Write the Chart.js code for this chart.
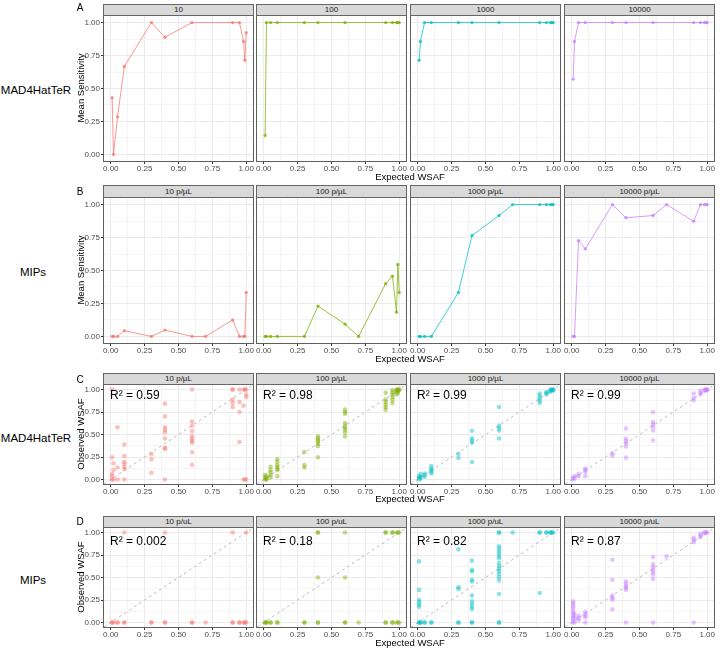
<!DOCTYPE html>
<html lang="en">
<head>
<meta charset="UTF-8">
<title>Sensitivity and WSAF by parasite density</title>
<style>
  body { margin: 0; background: #fff; font-family: "Liberation Sans", Arial, sans-serif; }
  #fig { position: relative; width: 720px; height: 651px; overflow: hidden; background: #fff; }
  #fig canvas { position: absolute; }
  .strip {
    position: absolute; box-sizing: border-box;
    background: #D9D9D9; border: 1px solid #666;
    font-size: 8px; color: #1A1A1A; text-align: center;
  }
  .lbl { position: absolute; white-space: nowrap; color: #000; }
</style>
<script src="https://cdn.jsdelivr.net/npm/chart.js"></script>
</head>
<body>
<div id="fig"></div>
<script>
// ---- data ----
const densityMad = ['10', '100', '1000', '10000'];
const densityMipB = ['10 p/µL', '100 p/µL', '1000 p/µL', '10000 p/µL'];
const densityMadC = ['10 p/µL', '100 p/µL', '1000 p/µL', '10000 p/µL'];
const densityMipD = ['10 p/uL', '100 p/uL', '1000 p/uL', '10000 p/uL'];

const wsafMad = [0.01, 0.02, 0.05, 0.1, 0.3, 0.4, 0.6, 0.9, 0.95, 0.98, 0.99, 1];
const wsafMip = [0.01, 0.02, 0.05, 0.1, 0.3, 0.4, 0.6, 0.7, 0.9, 0.95, 0.98, 0.99, 1];

// panel A: MAD4HatTeR mean sensitivity
const sensMad10    = [0.43, 0, 0.285, 0.667, 1, 0.889, 1, 1, 1, 0.857, 0.714, 0.923];
const sensMad100   = [0.143, 1, 1, 1, 1, 1, 1, 1, 1, 1, 1, 1];
const sensMad1000  = [0.714, 0.857, 1, 1, 1, 1, 1, 1, 1, 1, 1, 1];
const sensMad10000 = [0.571, 0.857, 1, 1, 1, 1, 1, 1, 1, 1, 1, 1];

// panel B: MIPs mean sensitivity
const sensMip10    = [0, 0, 0, 0.043, 0, 0.048, 0, 0, 0.125, 0, 0, 0, 0.333];
const sensMip100   = [0, 0, 0, 0, 0, 0.23, 0.093, 0, 0.4, 0.457, 0.184, 0.545, 0.333];
const sensMip1000  = [0, 0, 0, 0, 0.333, 0.765, 0.917, 1, 1, 1, 1, 1, 1];
const sensMip10000 = [0, 0, 0.727, 0.664, 1, 0.9, 0.917, 1, 0.874, 1, 1, 1, 1];

// panel C: MAD4HatTeR observed WSAF, grouped by wsafMip level
const obsMad10 = [[1, 0.246, 0.06, 0.037, 0], [0.18, 0.104, 0], [0.58, 0.134, 0],
  [0.388, 0.261, 0.194, 0.175, 0.142, 0.119, 0], [0.284, 0.224, 0.075],
  [0.843, 0.701, 0.582, 0.552, 0.526, 0.455, 0.351, 0.343, 0],
  [1, 0.645, 0.597, 0.537, 0.481, 0.451, 0.429, 0.407, 0.302, 0.164], [],
  [1, 1, 0.888, 0.851, 0.806], [1, 0.86, 0.75, 0.418], [1, 0.821, 0], [1, 0], [1, 0.944, 0.918, 0]];
const obsMad100 = [[0.049, 0.022, 0], [0.037, 0.011, 0], [0.142, 0.104, 0.078, 0.049, 0.022],
  [0.224, 0.198, 0.16, 0.142, 0.123, 0.104, 0.037], [0.306, 0.16, 0.134],
  [0.481, 0.459, 0.44, 0.422, 0.396, 0.373, 0.246],
  [0.776, 0.75, 0.731, 0.627, 0.597, 0.571, 0.552, 0.522, 0.478], [],
  [0.963, 0.888, 0.862, 0.832, 0.806, 0.776], [0.993, 0.97, 0.944, 0.918, 0.888, 0.851],
  [1, 0.985, 0.97, 0.944], [1, 0.989, 0.963], [1, 0.993]];
const obsMad1000 = [[0.037, 0.022, 0], [0.06, 0.03, 0.011], [0.067, 0.049, 0.03],
  [0.149, 0.123, 0.104, 0.086, 0.067], [0.284, 0.239], [0.541, 0.459, 0.433, 0.41, 0.194],
  [0.806, 0.597, 0.571, 0.545, 0.455], [], [0.955, 0.93, 0.903, 0.877, 0.851],
  [0.97, 0.963, 0.944], [1, 0.989, 0.974], [1, 0.989], [1, 0.993]];
const obsMad10000 = [[0.022, 0], [0.037, 0.011], [0.06, 0.037], [0.123, 0.104, 0.086, 0.037],
  [0.291, 0.265], [0.567, 0.455, 0.429, 0.403, 0.366, 0.243],
  [0.75, 0.638, 0.612, 0.586, 0.545, 0.433], [], [0.955, 0.907, 0.881],
  [0.985, 0.963, 0.944], [1, 0.985], [1, 0.993], [1, 0.993]];

// panel D: MIPs observed WSAF
const obsMip10 = [[0, 0], [0], [0, 0], [1, 0, 0], [0, 0], [1, 0, 0], [0, 0], [0],
  [1, 0, 0], [0, 0], [0], [0, 0], [1, 0]];
const obsMip100 = [[0, 0], [0, 0], [0, 0], [0, 0], [0, 0], [1, 1, 0.5, 0, 0], [1, 0.5, 0, 0], [0],
  [1, 1, 0, 0], [1, 1, 0, 0], [1, 0], [1, 0], [1, 0]];
const obsMip1000 = [[0.679, 0.362, 0.25, 0.224, 0.198, 0.175, 0, 0], [0, 0], [0, 0], [0, 0],
  [0.813, 0.392, 0.373, 0, 0],
  [0.687, 0.586, 0.567, 0.474, 0.455, 0.299, 0.235, 0.205, 0.175, 0.149, 0, 0],
  [1, 1, 0.847, 0.821, 0.795, 0.765, 0.739, 0.713, 0.66, 0.627, 0.597, 0.571, 0.541, 0.504, 0.466, 0.317, 0, 0],
  [1], [1, 1, 0.328], [1, 1], [1, 1], [1], [1]];
const obsMip10000 = [[0.235, 0.213, 0.187, 0.16, 0.131, 0.104, 0.075, 0.049, 0.026, 0],
  [0.093, 0.056, 0], [0.075, 0.049, 0.026], [0.119, 0.093, 0.075, 0.056, 0],
  [0.698, 0.474, 0.299, 0.272, 0.254, 0.146], [0.455, 0.429, 0.403, 0.384, 0.362, 0],
  [0.728, 0.646, 0.616, 0.586, 0.56, 0.534, 0.485, 0], [0.735], [0.94, 0.918, 0.892, 0],
  [0.985, 0.966, 0.948], [1, 0.993], [1], [1]];

const r2Mad = ['0.59', '0.98', '0.99', '0.99'];
const r2Mip = ['0.002', '0.18', '0.82', '0.87'];

const hues = [[248, 118, 109], [124, 174, 0], [0, 191, 196], [199, 124, 255]];
const axisTicks = [0, 0.125, 0.25, 0.375, 0.5, 0.625, 0.75, 0.875, 1];

// ---- layout ----
const COL_LEFT = [104, 257, 411, 565];
const PLOT_W = 149;
const ROWS = [
  { stripTop: 4,   top: 16,  h: 145 },
  { stripTop: 185, top: 198, h: 145 },
  { stripTop: 373, top: 385, h: 99 },
  { stripTop: 516, top: 528, h: 99 }
];
const YW = 26, PAD_T = 6, PAD_R = 12, XH = 13;

Chart.defaults.font.family = '"Liberation Sans", Arial, sans-serif';
const fig = document.getElementById('fig');

function rgba(c, a) { return `rgba(${c[0]},${c[1]},${c[2]},${a})`; }
function isMajor(v) { return Math.abs(v * 4 - Math.round(v * 4)) < 1e-6; }

function addText(txt, x, y, css, mode) {
  const d = document.createElement('div');
  d.className = 'lbl';
  d.textContent = txt;
  d.style.cssText += css;
  d.style.left = x + 'px';
  d.style.top = y + 'px';
  if (mode === 'rot') d.style.transform = 'translate(-50%,-50%) rotate(-90deg)';
  else if (mode === 'left') d.style.transform = 'translate(0,-50%)';
  else d.style.transform = 'translate(-50%,-50%)';
  fig.appendChild(d);
}

const panelBorder = {
  id: 'panelBorder',
  afterDraw(chart) {
    const a = chart.chartArea, c = chart.ctx;
    c.save();
    c.strokeStyle = '#5f5f5f';
    c.lineWidth = 1;
    c.strokeRect(a.left - 0.5, a.top - 0.5, a.right - a.left + 1, a.bottom - a.top + 1);
    c.restore();
  }
};

function axis(showTicks, horizontal) {
  return {
    type: 'linear', min: -0.05, max: 1.05,
    afterBuildTicks: s => { s.ticks = axisTicks.map(v => ({ value: v })); },
    afterFit: s => {
      if (horizontal) { s.height = XH; s.paddingLeft = 0; s.paddingRight = 0; }
      else { s.width = YW; s.paddingTop = 0; s.paddingBottom = 0; }
    },
    border: { display: false },
    grid: {
      color: ctx => isMajor(ctx.tick.value) ? '#EBEBEB' : '#F4F4F4',
      lineWidth: 1,
      drawTicks: showTicks,
      tickLength: 3,
      tickColor: ctx => isMajor(ctx.tick.value) ? '#333' : 'rgba(0,0,0,0)'
    },
    ticks: {
      display: showTicks,
      autoSkip: false, maxRotation: 0, minRotation: 0,
      padding: horizontal ? 0 : 1,
      color: '#4D4D4D',
      font: { size: 8 },
      callback: v => isMajor(v) ? v.toFixed(2) : ''
    }
  };
}

function panel(row, col, strip, datasets) {
  const r = ROWS[row];
  const cv = document.createElement('canvas');
  cv.width = YW + PLOT_W + PAD_R;
  cv.height = PAD_T + r.h + XH;
  cv.style.left = (COL_LEFT[col] - YW) + 'px';
  cv.style.top = (r.top - PAD_T) + 'px';
  fig.appendChild(cv);

  const s = document.createElement('div');
  s.className = 'strip';
  s.textContent = strip;
  s.style.left = COL_LEFT[col] - 1 + 'px';
  s.style.top = r.stripTop + 'px';
  s.style.width = PLOT_W + 2 + 'px';
  s.style.height = (r.top - r.stripTop) + 'px';
  s.style.lineHeight = (r.top - r.stripTop - 2) + 'px';
  fig.appendChild(s);

  new Chart(cv, {
    type: 'scatter',
    data: { datasets: datasets },
    options: {
      responsive: false, animation: false, devicePixelRatio: 1,
      layout: { padding: { top: PAD_T, right: PAD_R, left: 0, bottom: 0 } },
      plugins: { legend: { display: false }, tooltip: { enabled: false } },
      scales: { x: axis(true, true), y: axis(col === 0, false) }
    },
    plugins: [panelBorder]
  });
}

function lineSet(xs, ys, c) {
  return {
    data: xs.map((x, i) => ({ x: x, y: ys[i] })),
    showLine: true, borderColor: rgba(c, 0.75), borderWidth: 1,
    pointRadius: 1.7, pointBackgroundColor: rgba(c, 0.75), pointBorderWidth: 0
  };
}

function scatterSets(groups, c) {
  const pts = [];
  groups.forEach((g, i) => g.forEach(y => pts.push({ x: wsafMip[i], y: y })));
  return [
    { data: pts, pointRadius: 2.3, pointBackgroundColor: rgba(c, 0.45), pointBorderWidth: 0 },
    { data: [{ x: -0.05, y: -0.05 }, { x: 1.05, y: 1.05 }], showLine: true,
      borderColor: '#BDBDBD', borderWidth: 1, borderDash: [3, 3], pointRadius: 0 }
  ];
}

const madSens = [sensMad10, sensMad100, sensMad1000, sensMad10000];
const mipSens = [sensMip10, sensMip100, sensMip1000, sensMip10000];
const madObs = [obsMad10, obsMad100, obsMad1000, obsMad10000];
const mipObs = [obsMip10, obsMip100, obsMip1000, obsMip10000];

for (let c = 0; c < 4; c++) {
  panel(0, c, densityMad[c], [lineSet(wsafMad, madSens[c], hues[c])]);
  panel(1, c, densityMipB[c], [lineSet(wsafMip, mipSens[c], hues[c])]);
  panel(2, c, densityMadC[c], scatterSets(madObs[c], hues[c]));
  panel(3, c, densityMipD[c], scatterSets(mipObs[c], hues[c]));
  addText('R² = ' + r2Mad[c], COL_LEFT[c] + 6, 395, 'font-size:12px;', 'left');
  addText('R² = ' + r2Mip[c], COL_LEFT[c] + 6, 541, 'font-size:12px;', 'left');
}

// titles and labels
['A', 'B', 'C', 'D'].forEach((t, i) => addText(t, 80, [7, 191, 379, 521][i], 'font-size:10px;'));
[['MAD4HatTeR', 36, 90], ['MIPs', 33, 272], ['MAD4HatTeR', 36, 438], ['MIPs', 33, 580]]
  .forEach(l => addText(l[0], l[1], l[2], 'font-size:11.5px;'));
[176, 358, 498, 642].forEach(y => addText('Expected WSAF', 410, y, 'font-size:9.5px;'));
addText('Mean Sensitivity', 80, 88, 'font-size:9.5px;', 'rot');
addText('Mean Sensitivity', 80, 270, 'font-size:9.5px;', 'rot');
addText('Observed WSAF', 80, 434, 'font-size:9.5px;', 'rot');
addText('Observed WSAF', 80, 577, 'font-size:9.5px;', 'rot');
</script>
</body>
</html>
